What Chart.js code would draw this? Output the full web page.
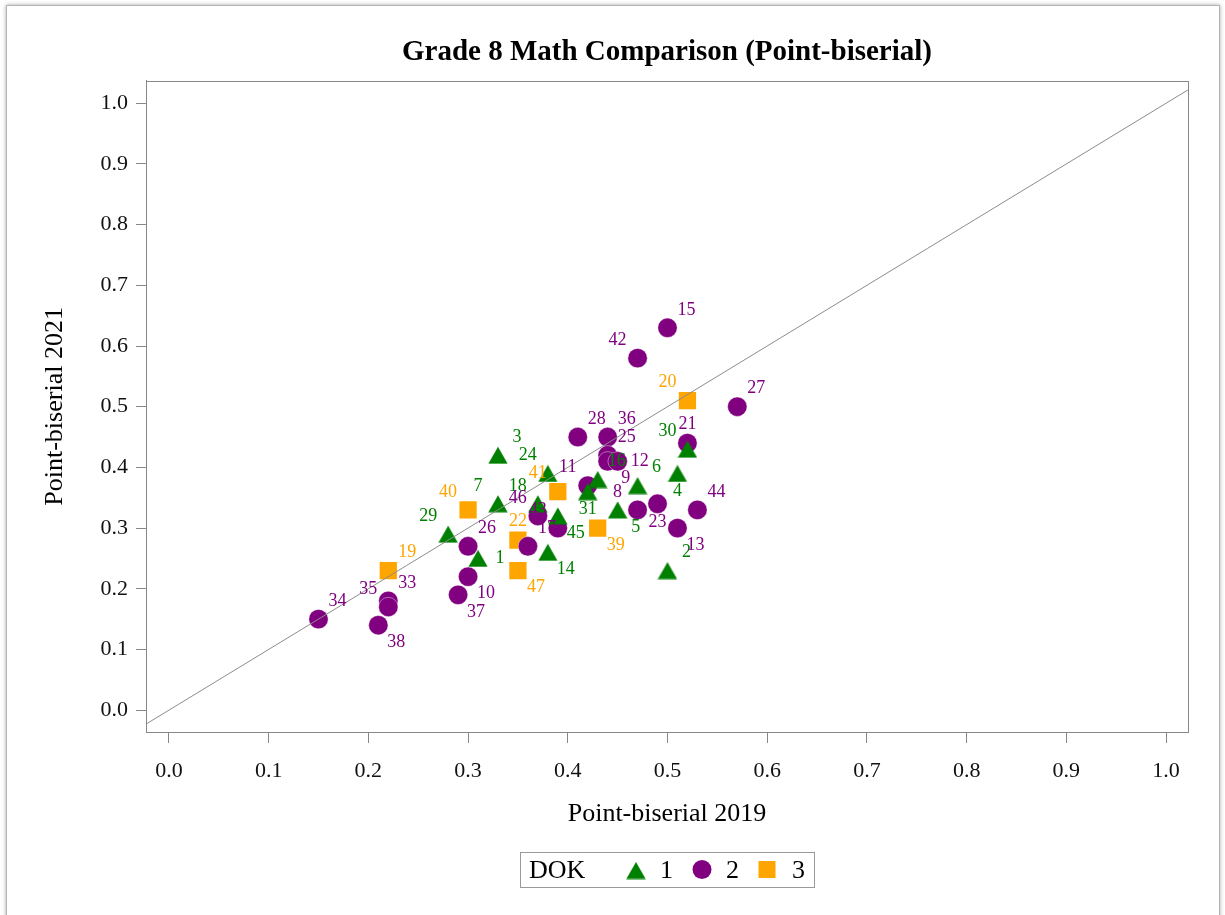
<!DOCTYPE html>
<html>
<head>
<meta charset="utf-8">
<title>Grade 8 Math Comparison (Point-biserial)</title>
<script src="https://cdn.jsdelivr.net/npm/chart.js@4.4.1/dist/chart.umd.min.js"></script>
<style>
  html, body { margin: 0; padding: 0; background: #fff; overflow: hidden; }
  #frame {
    position: absolute; left: 6px; top: 5px; width: 1212px; height: 980px;
    border: 1px solid #b4b4b4; box-shadow: 0 0 4px rgba(0, 0, 0, 0.35); background: #fff;
  }
  #chart { position: absolute; left: 0; top: 0; }
</style>
</head>
<body>
<div id="frame"></div>
<canvas id="chart" width="1225" height="915"></canvas>
<script>
const serif = '"Liberation Serif", "Times New Roman", serif';

// DOK 1 items (green triangles)
const dok1Items = [3, 24, 7, 18, 45, 16, 31, 6, 4, 30, 5, 2, 14, 1, 29];
const dok1X = [0.33, 0.38, 0.33, 0.37, 0.39, 0.43, 0.42, 0.47, 0.51, 0.52, 0.45, 0.50, 0.38, 0.31, 0.28];
const dok1Y = [0.42, 0.39, 0.34, 0.34, 0.32, 0.38, 0.36, 0.37, 0.39, 0.43, 0.33, 0.23, 0.26, 0.25, 0.29];

// DOK 2 items (purple circles)
const dok2Items = [15, 42, 27, 28, 36, 21, 44, 13, 8, 23, 11, 25, 9, 12, 46, 43, 17, 26, 10, 37, 33, 35, 38, 34];
const dok2X = [0.50, 0.47, 0.57, 0.41, 0.44, 0.52, 0.53, 0.51, 0.47, 0.49, 0.42, 0.44, 0.44, 0.45, 0.37, 0.39, 0.36, 0.30, 0.30, 0.29, 0.22, 0.22, 0.21, 0.15];
const dok2Y = [0.63, 0.58, 0.50, 0.45, 0.45, 0.44, 0.33, 0.30, 0.33, 0.34, 0.37, 0.42, 0.41, 0.41, 0.32, 0.30, 0.27, 0.27, 0.22, 0.19, 0.18, 0.17, 0.14, 0.15];

// DOK 3 items (orange squares)
const dok3Items = [20, 41, 40, 22, 47, 39, 19];
const dok3X = [0.52, 0.39, 0.30, 0.35, 0.35, 0.43, 0.22];
const dok3Y = [0.51, 0.36, 0.33, 0.28, 0.23, 0.30, 0.23];

// axis ranges (ticks every 0.1 from 0.0 to 1.0)
const xMin = -0.023, xMax = 1.022;
const yMin = -0.036, yMax = 1.037;

const green = '#008000', purple = '#800080', orange = '#ffa500';

// where each item number sits around its marker; anything not listed is upper right
const labelSpot = {
  42: 'ul', 20: 'ul', 30: 'ul', 24: 'ul', 41: 'ul', 11: 'ul', 8: 'ul', 43: 'ul',
  46: 'ul', 18: 'ul', 7: 'ul', 40: 'ul', 29: 'ul', 35: 'ul',
  21: 't', 22: 't',
  4: 'b', 23: 'b', 31: 'b',
  9: 'lr', 13: 'lr', 5: 'lr', 39: 'lr', 45: 'lr', 14: 'lr', 47: 'lr', 10: 'lr', 37: 'lr', 38: 'lr',
  12: 'r', 1: 'r'
};
const spotOffset = { ur: [19, -18], ul: [-20, -18], lr: [18, 17], t: [0, -19], b: [0, 18], r: [22, 0] };

const toPoints = (xs, ys) => xs.map((x, i) => ({ x: x, y: ys[i] }));

// triangle sprite, centred on its bounding box like the original markers
function triangleSprite(color) {
  const c = document.createElement('canvas');
  c.width = 20; c.height = 18;
  const g = c.getContext('2d');
  g.fillStyle = color;
  g.beginPath();
  g.moveTo(10, 0.5);
  g.lineTo(19.7, 17.5);
  g.lineTo(0.3, 17.5);
  g.closePath();
  g.fill();
  return c;
}
const greenTriangle = triangleSprite(green);

// draws the item number next to every marker
const itemLabels = {
  id: 'itemLabels',
  afterDatasetsDraw(chart) {
    const ctx = chart.ctx;
    ctx.save();
    ctx.font = '18px ' + serif;
    ctx.textAlign = 'center';
    ctx.textBaseline = 'middle';
    chart.data.datasets.forEach((ds, i) => {
      if (!ds.items) return;
      const meta = chart.getDatasetMeta(i);
      ctx.fillStyle = ds.labelColor;
      meta.data.forEach((el, j) => {
        const off = spotOffset[labelSpot[ds.items[j]] || 'ur'];
        ctx.fillText(String(ds.items[j]), el.x + off[0], el.y + off[1]);
      });
    });
    ctx.restore();
  }
};

// top and right edges of the plot box
const plotFrame = {
  id: 'plotFrame',
  afterDraw(chart) {
    const a = chart.chartArea, ctx = chart.ctx;
    ctx.save();
    ctx.strokeStyle = '#888';
    ctx.lineWidth = 1;
    ctx.strokeRect(Math.round(a.left) + 0.5, Math.round(a.top) + 0.5, Math.round(a.right - a.left), Math.round(a.bottom - a.top));
    ctx.restore();
  }
};

// boxed legend under the x axis title
const dokLegend = {
  id: 'dokLegend',
  afterDraw(chart) {
    const ctx = chart.ctx, a = chart.chartArea;
    const w = 294, h = 35;
    const left = Math.round((a.left + a.right) / 2 - w / 2);
    const top = Math.round(chart.scales.x.bottom);
    const cy = top + h / 2;
    ctx.save();
    ctx.strokeStyle = '#999';
    ctx.lineWidth = 1;
    ctx.strokeRect(left + 0.5, top + 0.5, w, h);
    ctx.font = '26px ' + serif;
    ctx.fillStyle = '#000';
    ctx.textBaseline = 'middle';
    ctx.textAlign = 'left';
    ctx.fillText('DOK', left + 9, cy + 2);

    ctx.drawImage(greenTriangle, left + 116 - 10, cy - 8);
    ctx.fillText('1', left + 140, cy + 2);

    ctx.fillStyle = purple;
    ctx.beginPath();
    ctx.arc(left + 182, cy, 9.5, 0, Math.PI * 2);
    ctx.fill();
    ctx.fillStyle = '#000';
    ctx.fillText('2', left + 206, cy + 2);

    ctx.fillStyle = orange;
    ctx.fillRect(left + 247 - 8.5, cy - 8.5, 17, 17);
    ctx.fillStyle = '#000';
    ctx.fillText('3', left + 272, cy + 2);
    ctx.restore();
  }
};

const tickFont = { family: serif, size: 22 };

new Chart(document.getElementById('chart'), {
  type: 'scatter',
  plugins: [itemLabels, plotFrame, dokLegend],
  data: {
    datasets: [
      {
        type: 'line',
        data: [{ x: xMin, y: xMin }, { x: xMax, y: xMax }],
        borderColor: '#8c8c8c',
        borderWidth: 1,
        pointRadius: 0,
        order: 0
      },
      {
        label: '1',
        items: dok1Items,
        labelColor: green,
        data: toPoints(dok1X, dok1Y),
        pointStyle: greenTriangle,
        backgroundColor: green,
        order: 1
      },
      {
        label: '2',
        items: dok2Items,
        labelColor: purple,
        data: toPoints(dok2X, dok2Y),
        pointStyle: 'circle',
        pointRadius: 9.7,
        backgroundColor: purple,
        borderColor: 'rgba(255,255,255,0.5)',
        borderWidth: 0.8,
        order: 1
      },
      {
        label: '3',
        items: dok3Items,
        labelColor: orange,
        data: toPoints(dok3X, dok3Y),
        pointStyle: 'rect',
        pointRadius: 12.2,
        backgroundColor: orange,
        borderColor: orange,
        borderWidth: 0,
        order: 1
      }
    ]
  },
  options: {
    responsive: false,
    animation: false,
    events: [],
    layout: { padding: { left: 0, right: 37, top: 0, bottom: 63 } },
    plugins: {
      legend: { display: false },
      tooltip: { enabled: false },
      title: {
        display: true,
        fullSize: false,
        text: 'Grade 8 Math Comparison (Point-biserial)',
        color: '#000',
        font: { family: serif, size: 29, weight: 'bold' },
        padding: { top: 35, bottom: 11 }
      }
    },
    scales: {
      x: {
        type: 'linear',
        min: xMin,
        max: xMax,
        afterFit: s => { s.height = 120; },
        border: { display: true, color: '#888' },
        grid: { drawOnChartArea: false, drawTicks: true, tickLength: 11, color: '#888' },
        ticks: {
          stepSize: 0.1,
          includeBounds: false,
          autoSkip: false,
          maxRotation: 0,
          padding: 15,
          color: '#111',
          font: tickFont,
          callback: v => v.toFixed(1)
        },
        title: {
          display: true,
          text: 'Point-biserial 2019',
          color: '#000',
          font: { family: serif, size: 26 },
          padding: { top: 0, bottom: 22 }
        }
      },
      y: {
        type: 'linear',
        min: yMin,
        max: yMax,
        afterFit: s => { s.width = 146; },
        border: { display: true, color: '#888' },
        grid: { drawOnChartArea: false, drawTicks: true, tickLength: 10, color: '#888' },
        ticks: {
          stepSize: 0.1,
          includeBounds: false,
          autoSkip: false,
          padding: 8,
          color: '#111',
          font: tickFont,
          callback: v => v.toFixed(1)
        },
        title: {
          display: true,
          text: 'Point-biserial 2021',
          color: '#000',
          font: { family: serif, size: 26 },
          padding: { top: 40, bottom: 0 }
        }
      }
    }
  }
});
</script>
</body>
</html>
